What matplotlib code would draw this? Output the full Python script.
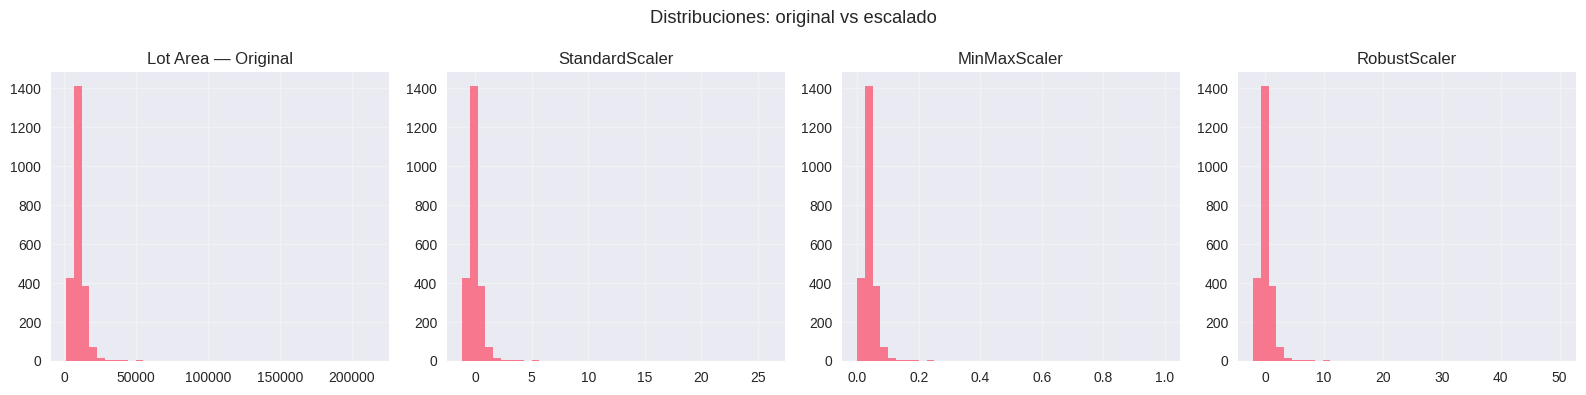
import numpy as np
import matplotlib
matplotlib.use('Agg')
import matplotlib.pyplot as plt

# Lot Area histogram (40 bins between min and max), counts
lot_min, lot_max = 1300.0, 215245.0
counts = [425, 1412, 384, 74, 15, 5, 5, 5, 0, 5,
          0, 0, 0, 0, 0, 0, 0, 0, 0, 0,
          0, 1, 0, 0, 0, 0, 0, 0, 0, 1,
          1, 0, 0, 0, 0, 0, 0, 0, 0, 1]

# scaler parameters (estimated from the axis ranges)
mean, std = 10148.0, 7880.0
median, iqr = 9480.0, 4100.0

titles = ['Lot Area — Original', 'StandardScaler', 'MinMaxScaler', 'RobustScaler']

edges = np.linspace(lot_min, lot_max, len(counts) + 1)
edge_sets = [
    edges,
    (edges - mean) / std,
    (edges - lot_min) / (lot_max - lot_min),
    (edges - median) / iqr,
]

plt.style.use('seaborn-v0_8')
plt.rcParams['font.family'] = ['Liberation Sans', 'DejaVu Sans']

fig = plt.figure(figsize=(15.86, 3.95), dpi=100)
lefts = [51, 447, 842, 1238]
for left, e, title in zip(lefts, edge_sets, titles):
    ax = fig.add_axes([left / 1586, 34 / 395, 338 / 1586, 289 / 395])
    centers = (e[:-1] + e[1:]) / 2
    ax.hist(centers, bins=e, weights=counts, color='#f77189', alpha=0.95)
    ax.set_title(title, fontsize=12, color='#262626')
    ax.grid(True, alpha=0.3)
    ax.tick_params(labelsize=10, colors='#262626')

fig.suptitle('Distribuciones: original vs escalado', fontsize=13.2, y=0.975,
             color='#262626')
fig.savefig('out.png', dpi=100)
